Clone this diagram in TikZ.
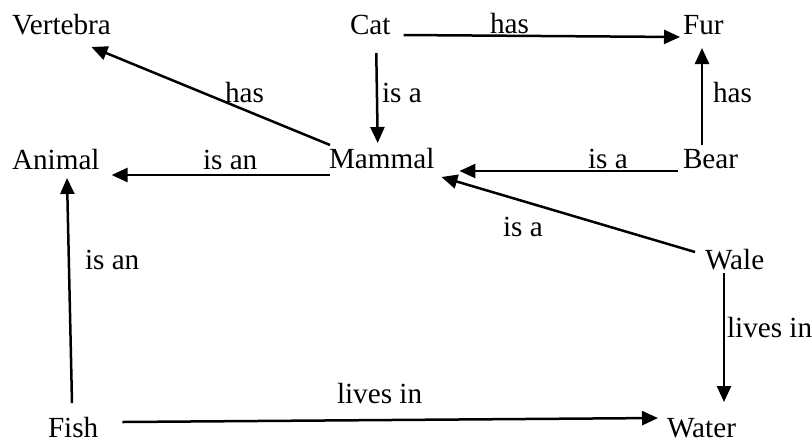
\documentclass[tikz,border=0pt]{standalone}
\usepackage{fontspec}
\setmainfont{Liberation Serif}
\usetikzlibrary{arrows.meta,calc}
\begin{document}
\begin{tikzpicture}[x=0.5pt,y=-0.5pt,
  every node/.style={inner sep=0pt,outer sep=0pt,anchor=base west,font=\fontsize{14.6}{17}\selectfont},
  arr/.style={line width=1.25pt,-{Triangle[length=8pt,width=7pt]}}]
\useasboundingbox (0,0) rectangle (812,440);
% concepts
\node (vertebra) at (12,34) {Vertebra};
\node (cat) at (350,34) {Cat};
\node (fur) at (683,34) {Fur};
\node (animal) at (12,169) {Animal};
\node (mammal) at (329,168) {Mammal};
\node (bear) at (683,168) {Bear};
\node (wale) at (705,269) {Wale};
\node (fish) at (48,437) {Fish};
\node (water) at (667,437) {Water};
% labels
\node (l1) at (490,33) {has};
\node (l2) at (382,102) {is a};
\node (l3) at (225,102) {has};
\node (l4) at (203,169) {is an};
\node (l5) at (588,168) {is a};
\node (l6) at (713,102) {has};
\node (l7) at (503,236) {is a};
\node (l8) at (727,337) {lives in};
\node (l9) at (85,269) {is an};
\node (l10) at (337,403) {lives in};
% connectors
\draw[arr] ($(cat.base east)+(13,1)$) -- ($(fur.base west)+(-3,3)$);
\draw[arr] ($(cat.base)+(6,19)$) -- ($(mammal.base)+(-4,-25)$);
\draw[arr] ($(mammal.base west)+(1,-23)$) -- ($(vertebra.base)+(30,13)$);
\draw[arr] ($(mammal.base west)+(1,7)$) -- ($(animal.base east)+(12,6)$);
\draw[arr] ($(bear.base west)+(-5,3)$) -- ($(mammal.base east)+(25,3)$);
\draw[arr] ($(bear.base west)+(19,-23)$) -- ($(fur.base west)+(19,14)$);
\draw[arr] ($(wale.base west)+(-10,-17)$) -- ($(mammal.base east)+(7,9)$);
\draw[arr] ($(wale.base west)+(19,4)$) -- ($(water.base west)+(57,-35)$);
\draw[arr] ($(fish.base west)+(24,-34)$) -- ($(animal.base west)+(55,9)$);
\draw[arr] ($(fish.base east)+(24,-15)$) -- ($(water.base west)+(-9,-19)$);
\end{tikzpicture}
\end{document}
